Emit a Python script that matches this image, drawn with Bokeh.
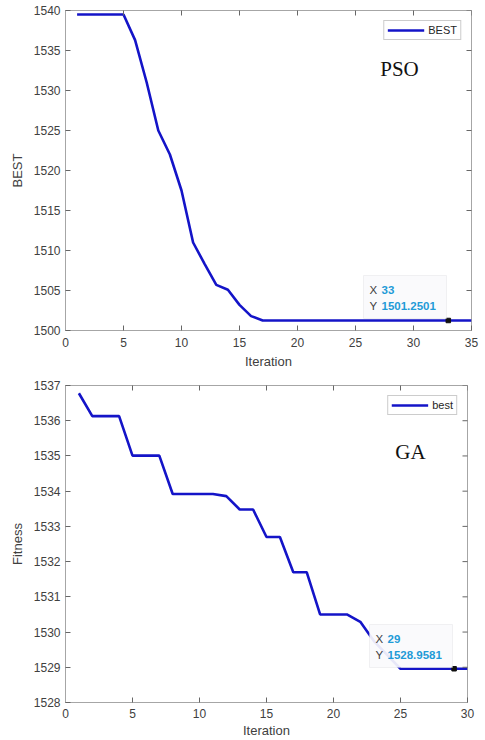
import math
from bokeh.plotting import figure
from bokeh.layouts import column
from bokeh.models import FixedTicker, Legend, LegendItem, Label, BoxAnnotation, Range1d
from bokeh.embed import file_html
from bokeh.resources import INLINE

# ---- data ----
pso_iter = list(range(1, 36))
pso_best = [1539.5, 1539.5, 1539.5, 1539.5, 1539.5, 1536.3, 1531.0, 1525.0, 1522.0, 1517.5,
            1511.0, 1508.3, 1505.7, 1505.1, 1503.2, 1501.8] + [1501.2501] * 19
pso_xticks = [0, 5, 10, 15, 20, 25, 30, 35]
pso_yticks = [1500, 1505, 1510, 1515, 1520, 1525, 1530, 1535, 1540]
pso_tip_x = 33

ga_iter = list(range(1, 31))
ga_best = [1536.78, 1536.13, 1536.13, 1536.13, 1535.01, 1535.01, 1535.01, 1533.92, 1533.92, 1533.92,
           1533.92, 1533.86, 1533.48, 1533.48, 1532.70, 1532.70, 1531.70, 1531.70, 1530.50, 1530.50,
           1530.50, 1530.29, 1529.75, 1529.35, 1528.9581] + [1528.9581] * 5
ga_xticks = [0, 5, 10, 15, 20, 25, 30]
ga_yticks = [1528, 1529, 1530, 1531, 1532, 1533, 1534, 1535, 1536, 1537]
ga_tip_x = 29

LINE = "#1414c8"
AXC = "#a6a6a6"
TICKC = "#666666"
TXT = "#404040"
TIPBLUE = "#1f9bd7"
FONT = "Liberation Sans"


def style_axis(ax, ticks):
    ax.ticker = FixedTicker(ticks=ticks)
    ax.axis_line_color = AXC
    ax.major_tick_line_color = TICKC
    ax.major_tick_in = 5
    ax.major_tick_out = 0
    ax.minor_tick_line_color = None
    ax.major_label_text_font = FONT
    ax.major_label_text_font_size = "12px"
    ax.major_label_text_color = TXT
    ax.axis_label_text_font = FONT
    ax.axis_label_text_font_size = "13px"
    ax.axis_label_text_font_style = "normal"
    ax.axis_label_text_color = TXT


def make_plot(xs, ys, xr, yr, xticks, yticks, ylabel, legend_label, title, title_xy,
              tip_x, tip_box, fw, fh, borders, xstand):
    p = figure(frame_width=fw, frame_height=fh, output_backend="svg", toolbar_location=None,
               x_range=Range1d(*xr), y_range=Range1d(*yr),
               min_border_left=borders[0], min_border_right=borders[1],
               min_border_top=borders[2], min_border_bottom=borders[3])
    p.outline_line_color = AXC
    p.xgrid.visible = False
    p.ygrid.visible = False
    p.background_fill_color = "white"
    p.border_fill_color = "white"

    r = p.line(xs, ys, line_color=LINE, line_width=2.6)

    style_axis(p.xaxis[0], xticks)
    style_axis(p.yaxis[0], yticks)
    p.xaxis[0].axis_label = "Iteration"
    p.yaxis[0].axis_label = ylabel
    p.xaxis[0].major_label_standoff = xstand[0]
    p.xaxis[0].axis_label_standoff = xstand[1]
    p.yaxis[0].major_label_standoff = 5
    p.yaxis[0].axis_label_standoff = 6

    # inward ticks on top and right edges (half of each dash is clipped by the frame)
    p.scatter(xticks, [yr[1]] * len(xticks), marker="dash", angle=math.pi / 2, size=10,
              line_color=TICKC, line_width=1)
    p.scatter([xr[1]] * len(yticks), yticks, marker="dash", size=10,
              line_color=TICKC, line_width=1)

    leg = Legend(items=[LegendItem(label=legend_label, renderers=[r])], location="top_right")
    leg.label_text_font = FONT
    leg.label_text_font_size = "11px"
    leg.label_text_color = "#262626"
    leg.glyph_width = 37
    leg.glyph_height = 10
    leg.label_height = 10
    leg.label_standoff = 4
    leg.padding = 3
    leg.margin = 10
    leg.border_line_color = "#999999"
    leg.background_fill_alpha = 1.0
    p.add_layout(leg)

    # algorithm name
    p.add_layout(Label(x=title_xy[0], y=title_xy[1], x_units="screen", y_units="screen",
                       text=title, text_font="Liberation Serif", text_font_size="21px",
                       text_color="#111111", text_align="center", text_baseline="middle"))

    # data tip
    tip_y = ys[xs.index(tip_x)]
    bl, br, bb, bt = tip_box
    p.add_layout(BoxAnnotation(left=bl, right=br, bottom=bb, top=bt,
                               left_units="screen", right_units="screen",
                               bottom_units="screen", top_units="screen",
                               fill_color="#fafafc", fill_alpha=0.92,
                               line_color="#d4d4dc", line_width=1))
    tx = bl + 6
    for k, (lab, val) in enumerate([("X", f"{tip_x}"), ("Y", f"{tip_y:.4f}")]):
        yy = bt - 14 - k * 16
        p.add_layout(Label(x=tx, y=yy, x_units="screen", y_units="screen", text=lab,
                           text_font=FONT, text_font_size="11.5px", text_color="#404040",
                           text_baseline="middle"))
        p.add_layout(Label(x=tx + 12, y=yy, x_units="screen", y_units="screen", text=val,
                           text_font=FONT, text_font_size="11.5px", text_font_style="bold",
                           text_color=TIPBLUE, text_baseline="middle"))
    p.scatter([tip_x], [tip_y], size=4.5, color="#111111", marker="square")
    return p


# the page itself has no margin: frames placed at the reference's pixel positions
p1 = make_plot(pso_iter, pso_best, (0, 35), (1500, 1540), pso_xticks, pso_yticks,
               "BEST", "BEST", "PSO", (334, 262), pso_tip_x, (298, 381, 12, 55),
               406, 320, (65, 14, 10, 42), (7, 4))
p2 = make_plot(ga_iter, ga_best, (0, 30), (1528, 1537), ga_xticks, ga_yticks,
               "Fitness", "best", "GA", (345, 251), ga_tip_x, (304, 387, 35, 78),
               402, 317, (65, 18, 13, 37), (6, 2))

layout = column(p1, p2, spacing=0)
open("out.html", "w").write(file_html(layout, INLINE))
